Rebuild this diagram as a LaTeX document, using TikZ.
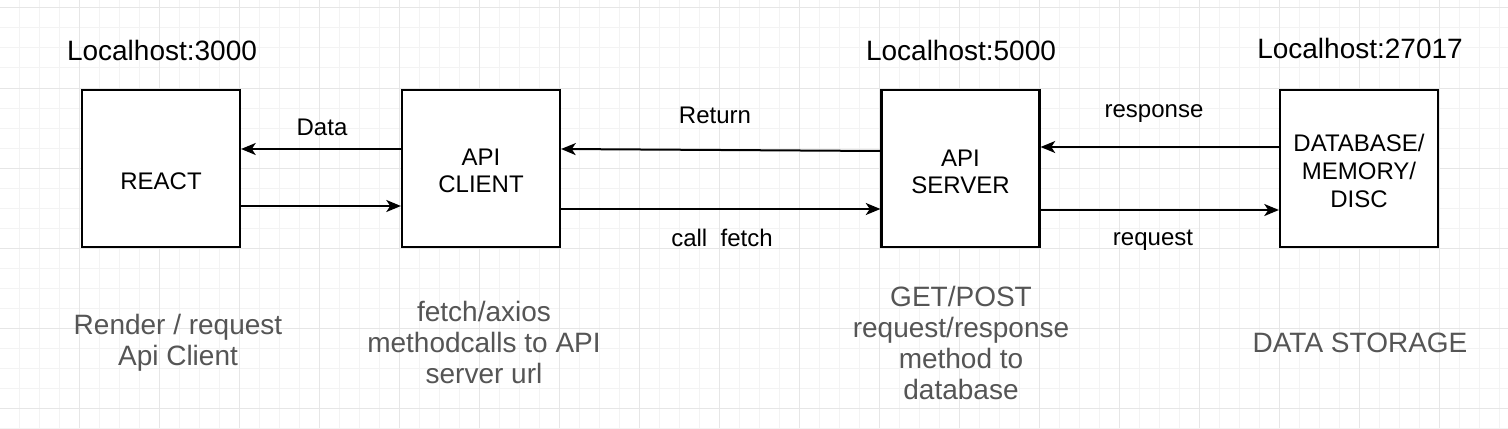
\documentclass[tikz,border=0pt]{standalone}
\usepackage{fontspec}
\setmainfont{Liberation Sans}
\usetikzlibrary{arrows.meta}
\definecolor{minorgrid}{HTML}{F3F3F3}
\definecolor{majorgrid}{HTML}{E6E6E6}
\definecolor{graytext}{HTML}{555555}
\begin{document}
\begin{tikzpicture}[x=0.75pt,y=-0.75pt,
  box/.style={draw=black,line width=1.6pt,fill=white,minimum width=118.5pt,minimum height=118pt,inner sep=0pt},
  boxtext/.style={align=center,font=\fontsize{18}{20.5}\selectfont},
  arr/.style={line width=1.5pt,-{Stealth[length=11pt,width=9pt,inset=3pt]}},
  host/.style={font=\fontsize{21}{24}\selectfont},
  elabel/.style={font=\fontsize{18}{20}\selectfont},
  note/.style={text=graytext,align=center,font=\fontsize{21}{23.25}\selectfont}]
\useasboundingbox (0,0) rectangle (1508,428);
\fill[white] (0,0) rectangle (1508,428);
\foreach \i in {0,...,76} {\draw[minorgrid,line width=0.75pt] ({20*\i-1},0) -- ({20*\i-1},428);}
\foreach \j in {0,...,21} {\draw[minorgrid,line width=0.75pt] (0,{8+20*\j}) -- (1508,{8+20*\j});}
\foreach \i in {0,...,19} {\draw[majorgrid,line width=0.75pt] ({80*\i-1},0) -- ({80*\i-1},428);}
\foreach \j in {0,...,5} {\draw[majorgrid,line width=0.75pt] (0,{8+80*\j}) -- (1508,{8+80*\j});}

\node[box] (react) at (161,168.5) {};
\node[box] (client) at (481,168.5) {};
\node[box] (server) at (960.5,168.5) {};
\node[box] (db) at (1359,168.5) {};
\node[boxtext] (t1) at (161,181) {REACT};
\node[boxtext] (t2) at (481,171) {API\\CLIENT};
\node[boxtext] (t3) at (960.5,172) {API\\SERVER};
\node[boxtext,font=\fontsize{18}{21}\selectfont] (t4) at (1359,171) {DATABASE/\\MEMORY/\\DISC};

\node[host] (h1) at (162,50) {Localhost:3000};
\node[host] (h2) at (961,50) {Localhost:5000};
\node[host] (h3) at (1360,48) {Localhost:27017};

\draw[arr] (client.west |- 0,149) -- (react.east |- 0,149);
\draw[arr] (react.east |- 0,206) -- (client.west |- 0,206);
\draw[arr] (server.west |- 0,151) -- (client.east |- 0,149);
\draw[arr] (client.east |- 0,209) -- (server.west |- 0,209);
\draw[arr] (db.west |- 0,147) -- (server.east |- 0,147);
\draw[arr] (server.east |- 0,210) -- (db.west |- 0,210);

\node[elabel] (l1) at (322,127) {Data};
\node[elabel] (l2) at (715,115) {Return};
\node[elabel] (l3) at (722,238) {call\ \ fetch};
\node[elabel] (l4) at (1154,114) {response};
\node[elabel] (l5) at (1153,240) {request};

\node[note] (n1) at (178,343) {Render / request\\Api Client};
\node[note] (n2) at (484,342.5) {fetch/axios\\methodcalls to API\\server url};
\node[note] (n3) at (961,343) {GET/POST\\request/response\\method to\\database};
\node[note] (n4) at (1360,343) {DATA STORAGE};
\end{tikzpicture}
\end{document}
